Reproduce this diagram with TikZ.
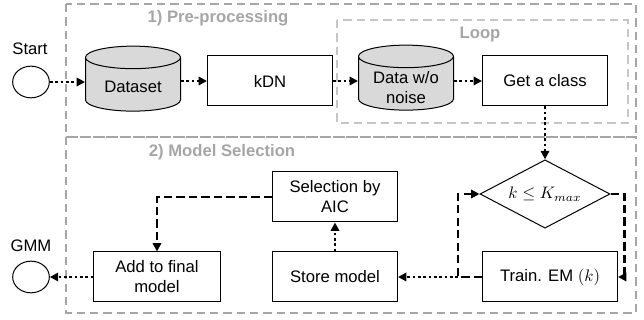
\documentclass[tikz,border=0pt]{standalone}
\usepackage{fontspec}
\setmainfont{Liberation Sans}
\usepackage{amsmath}
\usetikzlibrary{shapes.geometric,arrows.meta,positioning}

\begin{document}
\begin{tikzpicture}[x=0.6pt,y=-0.6pt,font=\fontsize{10}{12}\selectfont,
box/.style={draw,line width=0.6pt,minimum width=75pt,minimum height=30pt,inner sep=1pt,align=center},
db/.style={draw,line width=0.6pt,fill=gray!30,cylinder,shape border rotate=90,aspect=0.26,minimum width=57pt,minimum height=39pt,inner sep=1pt},
term/.style={draw,line width=0.6pt,ellipse,minimum width=22pt,minimum height=19pt,inner sep=0pt},
region/.style={draw=gray!70,line width=0.9pt,dash pattern=on 5pt off 3pt},
ttl/.style={text=gray!70,font=\fontsize{10}{12}\selectfont\bfseries},
dot/.style={line width=1.6pt,dash pattern=on 1.6pt off 1.6pt,-{Triangle[length=5pt,width=5pt]}},
dsh/.style={line width=1.6pt,dash pattern=on 5pt off 2.5pt,-{Triangle[length=5pt,width=5pt]}}]
\useasboundingbox (0,0) rectangle (644,320);
\draw[region] (66,4) rectangle (636,137);
\draw[region] (66,137) rectangle (636,313);
\draw[draw=gray!45,line width=0.7pt,dash pattern=on 5pt off 3pt] (337,20) rectangle (628,123);
\node[ttl] (t1) at (218,18) {1) Pre-processing};
\node[ttl] (t2) at (222,152) {2) Model Selection};
\node[ttl] (t3) at (480,35) {Loop};
\node[term] (s) at (31,82) {}; \node (sl) at (30,49) {Start};
\node[db,label={[yshift=-0.6pt]center:Dataset}] (ds) at (133,86) {\hspace*{50pt}};
\node[box] (kdn) at (270,81) {kDN};
\node[db,label={[yshift=-1.8pt,align=center]center:Data w/o\\noise}] (dwn) at (406,85) {\hspace*{50pt}};
\node[box] (gc) at (545,81) {Get a class};
\node[draw,line width=0.6pt,diamond,aspect=1.9,minimum width=78pt,minimum height=41pt,inner sep=0pt] (dm) at (545,194) {$k\leq K_{max}$};
\node[box,minimum width=81pt] (em) at (550,277) {Train. EM $(k)$};
\node[box] (sm) at (335,277) {Store model};
\node[box] (aic) at (335,197) {Selection by\\AIC};
\node[box,minimum width=76pt] (af) at (157,277) {Add to final\\model};
\node[term] (g) at (31,277) {}; \node (gl) at (31,246) {GMM};
\draw[dot] (s) -- (s -| ds.west);
\draw[dot] (ds.east |- kdn) -- (kdn);
\draw[dot] (kdn) -- (kdn -| dwn.west);
\draw[dot] (dwn.east |- gc) -- (gc);
\draw[dot] (gc) -- (dm);
\draw[dsh] (dm.east) -- ++(14,0) |- (em.east);
\draw[dsh] (em.west) -- ++(-24,0) coordinate (j) |- (dm.west);
\draw[dot] (j) -- (sm.east);
\draw[dot] (sm) -- (aic);
\draw[dsh] (aic.west) -| (af.north);
\draw[dot] (af) -- (g);
\end{tikzpicture}
\end{document}
